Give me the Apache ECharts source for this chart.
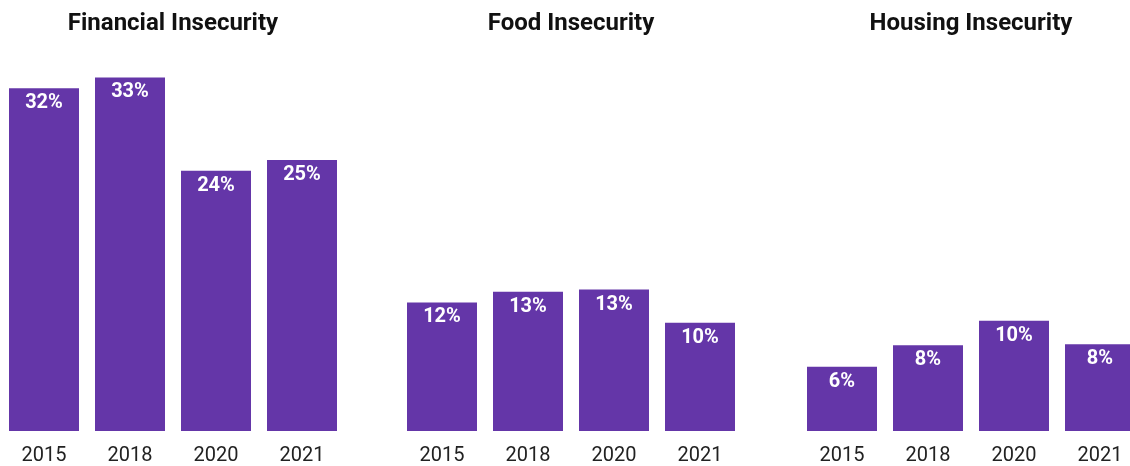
<!DOCTYPE html>
<html>
<head>
<meta charset="utf-8">
<script src="https://cdn.jsdelivr.net/npm/echarts@6/dist/echarts.min.js"></script>
<style>
html,body{margin:0;padding:0;background:#fff;}
#chart{width:1130px;height:466px;}
</style>
</head>
<body>
<div id="chart"></div>
<script>
const years = ['2015', '2018', '2020', '2021'];
const panelTitles = ['Financial Insecurity', 'Food Insecurity', 'Housing Insecurity'];
const financial = [32, 33, 24.3, 25.3];
const food = [12, 13, 13.2, 10.1];
const housing = [6, 8, 10.3, 8.1];
const panelData = [financial, food, housing];

const barColor = '#6436a8';
const panelLefts = [1, 399, 799];
const panelWidth = 344;

const chart = echarts.init(document.getElementById('chart'));
const grids = [], xAxes = [], yAxes = [], series = [], titles = [];
panelData.forEach((vals, i) => {
  grids.push({left: panelLefts[i], width: panelWidth, top: 56, bottom: 35, containLabel: false, outerBoundsMode: 'none'});
  xAxes.push({
    type: 'category', gridIndex: i, data: years,
    axisLine: {show: false}, axisTick: {show: false},
    axisLabel: {color: '#222', fontFamily: 'Roboto', fontSize: 20, margin: 15}
  });
  yAxes.push({type: 'value', gridIndex: i, min: 0, max: 35, show: false, splitLine: {show: false}});
  series.push({
    type: 'bar', xAxisIndex: i, yAxisIndex: i, data: vals, barWidth: 70,
    itemStyle: {color: barColor},
    label: {
      show: true, position: 'insideTop', distance: 5,
      color: '#fff', fontFamily: 'Roboto', fontWeight: 'bold', fontSize: 20,
      formatter: p => Math.round(p.value) + '%'
    }
  });
  titles.push({
    text: panelTitles[i], left: panelLefts[i] + panelWidth / 2 - 5, top: 7, textAlign: 'center',
    textStyle: {color: '#111', fontFamily: 'Roboto', fontWeight: 'bold', fontSize: 24}
  });
});

chart.setOption({
  animation: false,
  title: titles,
  grid: grids,
  xAxis: xAxes,
  yAxis: yAxes,
  series: series
});
</script>
</body>
</html>
